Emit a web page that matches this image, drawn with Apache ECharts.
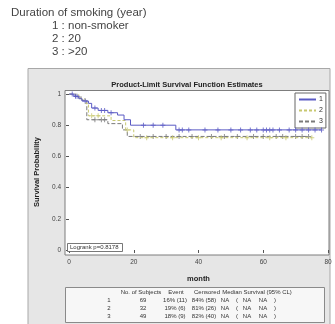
<!DOCTYPE html>
<html>
<head>
<meta charset="utf-8">
<script src="https://cdn.jsdelivr.net/npm/echarts@6/dist/echarts.min.js"></script>
<style>
  html, body { margin: 0; padding: 0; background: #fff; }
  #chart { width: 335px; height: 324px; }
</style>
</head>
<body>
<div id="chart"></div>
<script>
// Kaplan-Meier steps (month, survival after that time)
const g1Times = [0, 1.5, 3, 4, 6, 7, 9, 12, 15, 17, 19, 33, 78];
const g1Surv = [1, 0.985, 0.97, 0.955, 0.94, 0.91, 0.895, 0.88, 0.865, 0.835, 0.80, 0.77, 0.77];
const g2Times = [0, 3, 5, 6, 13, 17.5, 20, 75];
const g2Surv = [1, 0.97, 0.94, 0.86, 0.83, 0.77, 0.72, 0.72];
const g3Times = [0, 2, 4, 5.5, 12, 16.5, 18, 74];
const g3Surv = [1, 0.98, 0.96, 0.835, 0.81, 0.77, 0.728, 0.728];

// censoring times (month)
const g1Censor = [1, 2, 2.5, 5, 8, 10, 11, 13, 23, 26, 29, 34, 35, 37, 42, 46, 50, 53, 56, 58, 60, 61, 62, 63, 65, 68, 70, 72, 74, 76, 78];
const g2Censor = [7, 9, 18, 24, 32, 40, 47, 55, 62, 67, 75];
const g3Censor = [8, 10, 11, 22, 26, 30, 34, 38, 44, 48, 52, 57, 60, 64, 66, 70, 72, 74];

const groupNames = ['1', '2', '3'];

const tableHeader = ['No. of Subjects', 'Event', 'Censored', 'Median Survival (95% CL)'];
const tableSubjects = ['69', '32', '49'];
const tableEvent = ['16% (11)', '19% (6)', '18% (9)'];
const tableCensored = ['84% (58)', '81% (26)', '82% (40)'];

const legendLines = ['Duration of smoking (year)', '1 : non-smoker', '2 : 20', '3 : >20'];

function survAt(times, surv, t) {
  let s = surv[0];
  for (let i = 0; i < times.length; i++) {
    if (times[i] <= t) s = surv[i];
  }
  return s;
}

const colors = ['#5a5ac4', '#c8c870', '#7a7a7a'];
const curves = [
  { times: g1Times, surv: g1Surv, censor: g1Censor, dash: 'solid' },
  { times: g2Times, surv: g2Surv, censor: g2Censor, dash: [3, 2] },
  { times: g3Times, surv: g3Surv, censor: g3Censor, dash: [4, 2] },
];
const cross = 'path://M4,0h2v4h4v2h-4v4h-2v-4h-4v-2h4z';

const series = [];
curves.forEach((c, i) => {
  series.push({
    name: groupNames[i],
    type: 'line',
    step: 'end',
    symbol: 'none',
    data: c.times.map((t, k) => [t, c.surv[k]]),
    lineStyle: { color: colors[i], width: 1, type: c.dash },
    itemStyle: { color: colors[i] },
    z: 5 - i,
    silent: true,
  });
  series.push({
    name: 'censored ' + groupNames[i],
    type: 'scatter',
    symbol: cross,
    symbolSize: [5, 5],
    data: c.censor.map((t) => [t, survAt(c.times, c.surv, t)]),
    itemStyle: { color: colors[i] },
    z: 5 - i,
    silent: true,
  });
});

const small = { fontFamily: 'Liberation Sans', fontSize: 6, fill: '#333' };
const graphic = [
  { type: 'rect', shape: { x: 28, y: 68.5, width: 302, height: 260 }, style: { fill: '#e6e6e6', stroke: '#a8a8a8', lineWidth: 1 }, z: -10 },
  { type: 'rect', shape: { x: 65, y: 90.5, width: 264, height: 164.5 }, style: { fill: '#fff', stroke: '#7d7d7d', lineWidth: 1 }, z: -9 },
  { type: 'rect', shape: { x: 67.5, y: 243.5, width: 55, height: 8 }, style: { fill: '#fff', stroke: '#555', lineWidth: 0.8 }, z: 10 },
  { type: 'text', x: 70, y: 247.5, style: { text: 'Logrank p=0.8178', fontFamily: 'Liberation Sans', fontSize: 6, fill: '#333', verticalAlign: 'middle' }, z: 11 },
  { type: 'rect', shape: { x: 65.5, y: 287.5, width: 259, height: 35 }, style: { fill: '#f7f7f7', stroke: '#8a8a8a', lineWidth: 1 }, z: -8 },
];
legendLines.forEach((txt, i) => {
  graphic.push({
    type: 'text', x: i === 0 ? 11 : 52, y: [13, 26, 39, 52][i],
    style: { text: txt, fontFamily: 'Liberation Sans', fontSize: 11.5, fill: '#444', verticalAlign: 'middle' },
  });
});
[141, 176, 207, 257].forEach((cx, i) => {
  graphic.push({ type: 'text', x: cx, y: 292, style: { ...small, text: tableHeader[i], align: 'center', verticalAlign: 'middle' } });
});
[0, 1, 2].forEach((r) => {
  const y = 300 + r * 8;
  const cells = [
    [109, groupNames[r]], [143, tableSubjects[r]], [175, tableEvent[r]], [204, tableCensored[r]],
    [225, 'NA'], [237, '('], [247, 'NA'], [263, 'NA'], [275, ')'],
  ];
  cells.forEach(([cx, txt]) => {
    graphic.push({ type: 'text', x: cx, y, style: { ...small, text: txt, align: 'center', verticalAlign: 'middle' } });
  });
});

const chart = echarts.init(document.getElementById('chart'));
chart.setOption({
  animation: false,
  backgroundColor: '#fff',
  title: {
    text: 'Product-Limit Survival Function Estimates',
    left: 182,
    top: 76,
    textAlign: 'center',
    textStyle: { fontFamily: 'Liberation Sans', fontSize: 7.5, fontWeight: 'bold', color: '#222' },
  },
  legend: {
    data: groupNames,
    orient: 'vertical',
    left: 295,
    top: 93,
    itemWidth: 17,
    itemHeight: 6,
    itemGap: 4,
    padding: [3, 3, 3, 3],
    backgroundColor: '#fff',
    borderColor: '#666',
    borderWidth: 1,
    borderRadius: 0,
    itemStyle: { opacity: 0 },
    textStyle: { fontFamily: 'Liberation Sans', fontSize: 7, color: '#333', padding: [0, 0, 0, -2] },
    selectedMode: false,
  },
  grid: { left: 69, right: 7, top: 94, bottom: 74, containLabel: false },
  xAxis: {
    type: 'value',
    min: 0,
    max: 80,
    interval: 20,
    offset: 5,
    name: 'month',
    nameLocation: 'middle',
    nameGap: 20,
    nameTextStyle: { fontFamily: 'Liberation Sans', fontSize: 7.5, fontWeight: 'bold', color: '#222' },
    axisLine: { show: false },
    axisTick: { length: 3, lineStyle: { color: '#555' } },
    axisLabel: { fontFamily: 'Liberation Sans', fontSize: 6.5, color: '#444', margin: 4 },
    splitLine: { show: false },
  },
  yAxis: {
    type: 'value',
    min: 0,
    max: 1,
    interval: 0.2,
    offset: 4,
    name: 'Survival Probability',
    nameLocation: 'middle',
    nameGap: 22,
    nameTextStyle: { fontFamily: 'Liberation Sans', fontSize: 7.5, fontWeight: 'bold', color: '#222' },
    axisLine: { show: false },
    axisTick: { length: 3, lineStyle: { color: '#555' } },
    axisLabel: { fontFamily: 'Liberation Sans', fontSize: 6.5, color: '#444', margin: 4, formatter: (v) => String(+v.toFixed(1)) },
    splitLine: { show: false },
  },
  graphic: graphic,
  series: series,
});
</script>
</body>
</html>
